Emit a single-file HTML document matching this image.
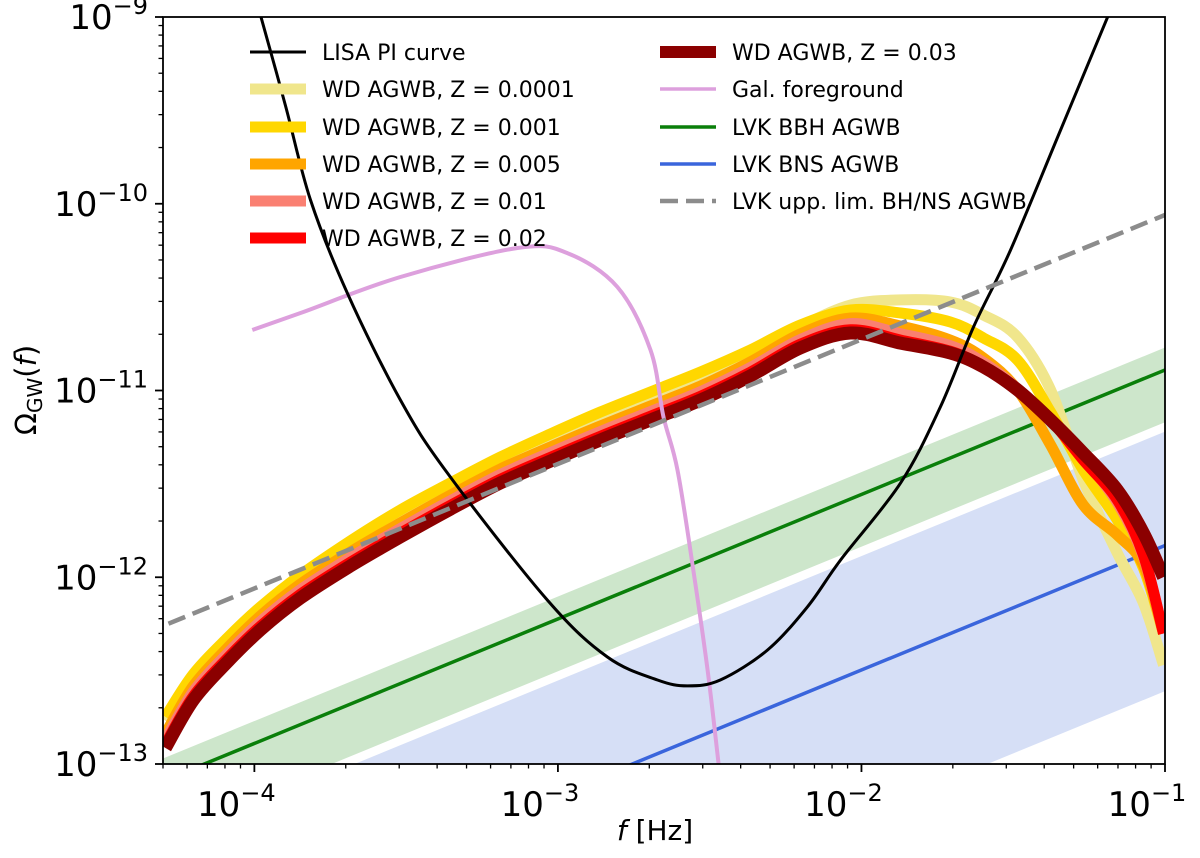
<!DOCTYPE html>
<html><head><meta charset="utf-8"><style>
html,body{margin:0;background:#fff;overflow:hidden;width:1200px;height:858px;}
svg{display:block;overflow:hidden;font-family:"DejaVu Sans","Liberation Sans",sans-serif;}
</style></head><body>
<svg id="chart" width="1200" height="858" viewBox="0 0 1200 858" xmlns="http://www.w3.org/2000/svg"></svg>
<script>
// data (log10 f [Hz], log10 Omega)
const lisaF=[-3.980,-3.898,-3.815,-3.694,-3.519,-3.364,-3.035,-2.837,-2.672,-2.573,-2.465,-2.310,-2.178,-2.069,-1.871,-1.740,-1.631,-1.509,-1.344,-1.186];
const lisaO=[-8.989,-9.471,-9.980,-10.478,-11.051,-11.442,-12.122,-12.427,-12.550,-12.582,-12.550,-12.390,-12.159,-11.908,-11.495,-11.088,-10.660,-10.248,-9.605,-8.989];
const galF=[-4.007,-3.848,-3.519,-3.133,-2.969,-2.804,-2.695,-2.652,-2.606,-2.554,-2.507,-2.471,-2.458];
const galO=[-10.676,-10.585,-10.392,-10.237,-10.264,-10.446,-10.783,-11.142,-11.426,-11.961,-12.497,-12.995,-13.19];
const wdF=[-4.293,-4.201,-4.089,-3.980,-3.848,-3.684,-3.519,-3.354,-3.189,-3.025,-2.860,-2.695,-2.530,-2.366,-2.201,-2.036,-1.871,-1.707,-1.598,-1.486,-1.377,-1.269,-1.157,-1.071,-1.005];
const wdZ00001=[-12.768,-12.538,-12.345,-12.179,-12.008,-11.826,-11.660,-11.515,-11.376,-11.253,-11.135,-11.028,-10.921,-10.803,-10.659,-10.542,-10.515,-10.526,-10.596,-10.714,-10.997,-11.479,-11.870,-12.138,-12.47];
const wdZ0001=[-12.748,-12.518,-12.325,-12.159,-11.988,-11.806,-11.640,-11.495,-11.356,-11.233,-11.115,-11.008,-10.901,-10.783,-10.649,-10.569,-10.585,-10.633,-10.719,-10.837,-11.115,-11.426,-11.693,-11.950,-12.30];
const wdZ0005=[-12.839,-12.582,-12.379,-12.207,-12.036,-11.865,-11.709,-11.560,-11.420,-11.303,-11.190,-11.083,-10.976,-10.847,-10.697,-10.612,-10.655,-10.730,-10.826,-10.997,-11.292,-11.613,-11.774,-11.934,-12.30];
const wdZ001=[-12.869,-12.612,-12.409,-12.237,-12.066,-11.895,-11.739,-11.590,-11.450,-11.333,-11.220,-11.113,-11.006,-10.877,-10.727,-10.642,-10.696,-10.760,-10.850,-10.990,-11.158,-11.360,-11.600,-11.890,-12.30];
const wdZ002=[-12.894,-12.637,-12.434,-12.262,-12.091,-11.920,-11.764,-11.615,-11.475,-11.358,-11.245,-11.138,-11.031,-10.902,-10.752,-10.675,-10.730,-10.790,-10.870,-10.997,-11.158,-11.372,-11.586,-11.881,-12.301];
const wdZ003=[-12.914,-12.657,-12.454,-12.282,-12.111,-11.940,-11.784,-11.635,-11.495,-11.378,-11.265,-11.158,-11.051,-10.922,-10.772,-10.692,-10.746,-10.799,-10.874,-10.997,-11.158,-11.335,-11.533,-11.763,-11.999];
const bbhRef=[-1.0,-10.89]; const bbhBand=[0.12,-0.28];
const bnsRef=[-1.0,-11.83]; const bnsBand=[0.61,-0.78];
const uppRef=[-1.0,-10.06];
const slope=2/3;
const xTicks=[-4,-3,-2,-1];
const yTicks=[-13,-12,-11,-10,-9];

const X0=163,X1=1165,Y0=17,Y1=764,LF0=Math.log10(5e-5),LF1=-1,LO0=-13,LO1=-9;
function sx(l){return X0+(l-LF0)/(LF1-LF0)*(X1-X0);}
function sy(l){return Y1-(l-LO0)/(LO1-LO0)*(Y1-Y0);}
const NS="http://www.w3.org/2000/svg";
const svg=document.getElementById('chart');
function mk(tag,attrs,parent){const e=document.createElementNS(NS,tag);for(const k in attrs)e.setAttribute(k,attrs[k]);(parent||svg).appendChild(e);return e;}
const defs=mk('defs',{});
const cp=mk('clipPath',{id:'clip'},defs);
mk('rect',{x:X0,y:Y0,width:X1-X0,height:Y1-Y0},cp);
const g=mk('g',{'clip-path':'url(#clip)'});


function pathOf(F,O){const P=F.map((f,i)=>[sx(f),sy(O[i])]);let d='M'+P[0][0].toFixed(1)+','+P[0][1].toFixed(1);
 for(let i=0;i<P.length-1;i++){const p0=P[Math.max(0,i-1)],p1=P[i],p2=P[i+1],p3=P[Math.min(P.length-1,i+2)];
  const c1=[p1[0]+(p2[0]-p0[0])/6,p1[1]+(p2[1]-p0[1])/6],c2=[p2[0]-(p3[0]-p1[0])/6,p2[1]-(p3[1]-p1[1])/6];
  d+=` C${c1[0].toFixed(1)},${c1[1].toFixed(1)} ${c2[0].toFixed(1)},${c2[1].toFixed(1)} ${p2[0].toFixed(1)},${p2[1].toFixed(1)}`;}
 return d;}
function powLine(ref,off){const a=-4.6,b=-0.9;return [[a,ref[1]+off+slope*(a-ref[0])],[b,ref[1]+off+slope*(b-ref[0])]];}
function band(ref,bd,color,name){const u=powLine(ref,bd[0]),l=powLine(ref,bd[1]);
 const p=mk('path',{d:`M${sx(u[0][0])},${sy(u[0][1])} L${sx(u[1][0])},${sy(u[1][1])} L${sx(l[1][0])},${sy(l[1][1])} L${sx(l[0][0])},${sy(l[0][1])} Z`,fill:color},g);
 }
function line(ref,color,w,name,dash){const u=powLine(ref,0);
 const p=mk('path',{d:`M${sx(u[0][0])},${sy(u[0][1])} L${sx(u[1][0])},${sy(u[1][1])}`,stroke:color,'stroke-width':w,fill:'none'},g);
 if(dash)p.setAttribute('stroke-dasharray',dash);
 }
band(bbhRef,bbhBand,'#cde6cb','bbh-band');
band(bnsRef,bnsBand,'#d6dff6','bns-band');
line(bbhRef,'#0a7f0a',3.5,'bbh-line');
line(bnsRef,'#3a65dc',3.5,'bns-line');
const wd=[[wdZ00001,'#f0e68c'],[wdZ0001,'#ffd700'],[wdZ0005,'#ffa500'],[wdZ001,'#fa8072'],[wdZ002,'#ff0000'],[wdZ003,'#8b0000']];
const wdNames=['wd-z00001','wd-z0001','wd-z0005','wd-z001','wd-z002','wd-z003'];
wd.forEach((s,i)=>{const p=mk('path',{d:pathOf(wdF,s[0]),stroke:s[1],'stroke-width':i==5?13:11,fill:'none','stroke-linejoin':'round'},g);
 });
let p=mk('path',{d:pathOf(galF,galO),stroke:'#dda0dd','stroke-width':4,fill:'none'},g);

p=mk('path',{d:pathOf(lisaF,lisaO),stroke:'#000','stroke-width':3,fill:'none','stroke-linejoin':'round'},g);

line(uppRef,'#8c8c8c',4.5,'lvk-upper-limit','18,8');
const fr=mk('rect',{x:X0,y:Y0,width:X1-X0,height:Y1-Y0,fill:'none',stroke:'#000','stroke-width':1.8});

for(let d=-5;d<=-1;d++){for(let m=1;m<10;m++){const l=d+Math.log10(m);if(l<LF0-1e-6||l>LF1+1e-6)continue;
 const x=sx(l);const len=m==1?8:4.5;mk('line',{x1:x,x2:x,y1:Y1,y2:Y1+len,stroke:'#000','stroke-width':m==1?1.8:1.3});}}
for(let d=-13;d<=-9;d++){for(let m=1;m<10;m++){const l=d+Math.log10(m);if(l>LO1+1e-6)continue;
 const y=sy(l);const len=m==1?8:4.5;mk('line',{x1:X0-len,x2:X0,y1:y,y2:y,stroke:'#000','stroke-width':m==1?1.8:1.3});}}
xTicks.forEach(t=>{const tx=mk('text',{x:sx(t)-18,y:816,'font-size':34,'text-anchor':'middle'});
 
 tx.innerHTML='10<tspan dy="-15" font-size="24">−'+(-t)+'</tspan>';});
yTicks.forEach(t=>{const tx=mk('text',{x:148,y:sy(t)+12,'font-size':34,'text-anchor':'end'});
 
 tx.innerHTML='10<tspan dy="-15" font-size="24">−'+(-t)+'</tspan>';});
let t=mk('text',{x:655,y:840,'font-size':28,'text-anchor':'middle'});

t.innerHTML='<tspan font-style="italic">f</tspan> [Hz]';
t=mk('text',{x:0,y:0,'font-size':29,'text-anchor':'middle',transform:'translate(36,390) rotate(-90)'});

t.innerHTML='Ω<tspan font-size="20" dy="6">GW</tspan><tspan dy="-6">(</tspan><tspan font-style="italic">f</tspan>)';
const leg=[['LISA PI curve','#000',3,null,250,52],['WD AGWB, Z = 0.0001','#f0e68c',11,null,250,89],['WD AGWB, Z = 0.001','#ffd700',11,null,250,127],['WD AGWB, Z = 0.005','#ffa500',11,null,250,164],['WD AGWB, Z = 0.01','#fa8072',11,null,250,201],['WD AGWB, Z = 0.02','#ff0000',11,null,250,238],
['WD AGWB, Z = 0.03','#8b0000',12,null,660,52],['Gal. foreground','#dda0dd',3.5,null,660,89],['LVK BBH AGWB','#0a7f0a',3.5,null,660,127],['LVK BNS AGWB','#3a65dc',3.5,null,660,164],['LVK upp. lim. BH/NS AGWB','#8c8c8c',4.5,'18,8',660,201]];
leg.forEach(e=>{const gg=mk('g',{});
 const l=mk('line',{x1:e[4],x2:e[4]+56,y1:e[5],y2:e[5],stroke:e[1],'stroke-width':e[2]},gg);if(e[3])l.setAttribute('stroke-dasharray',e[3]);
 const tx=mk('text',{x:e[4]+72,y:e[5]+8,'font-size':22},gg);tx.textContent=e[0];});
</script>
</body></html>
